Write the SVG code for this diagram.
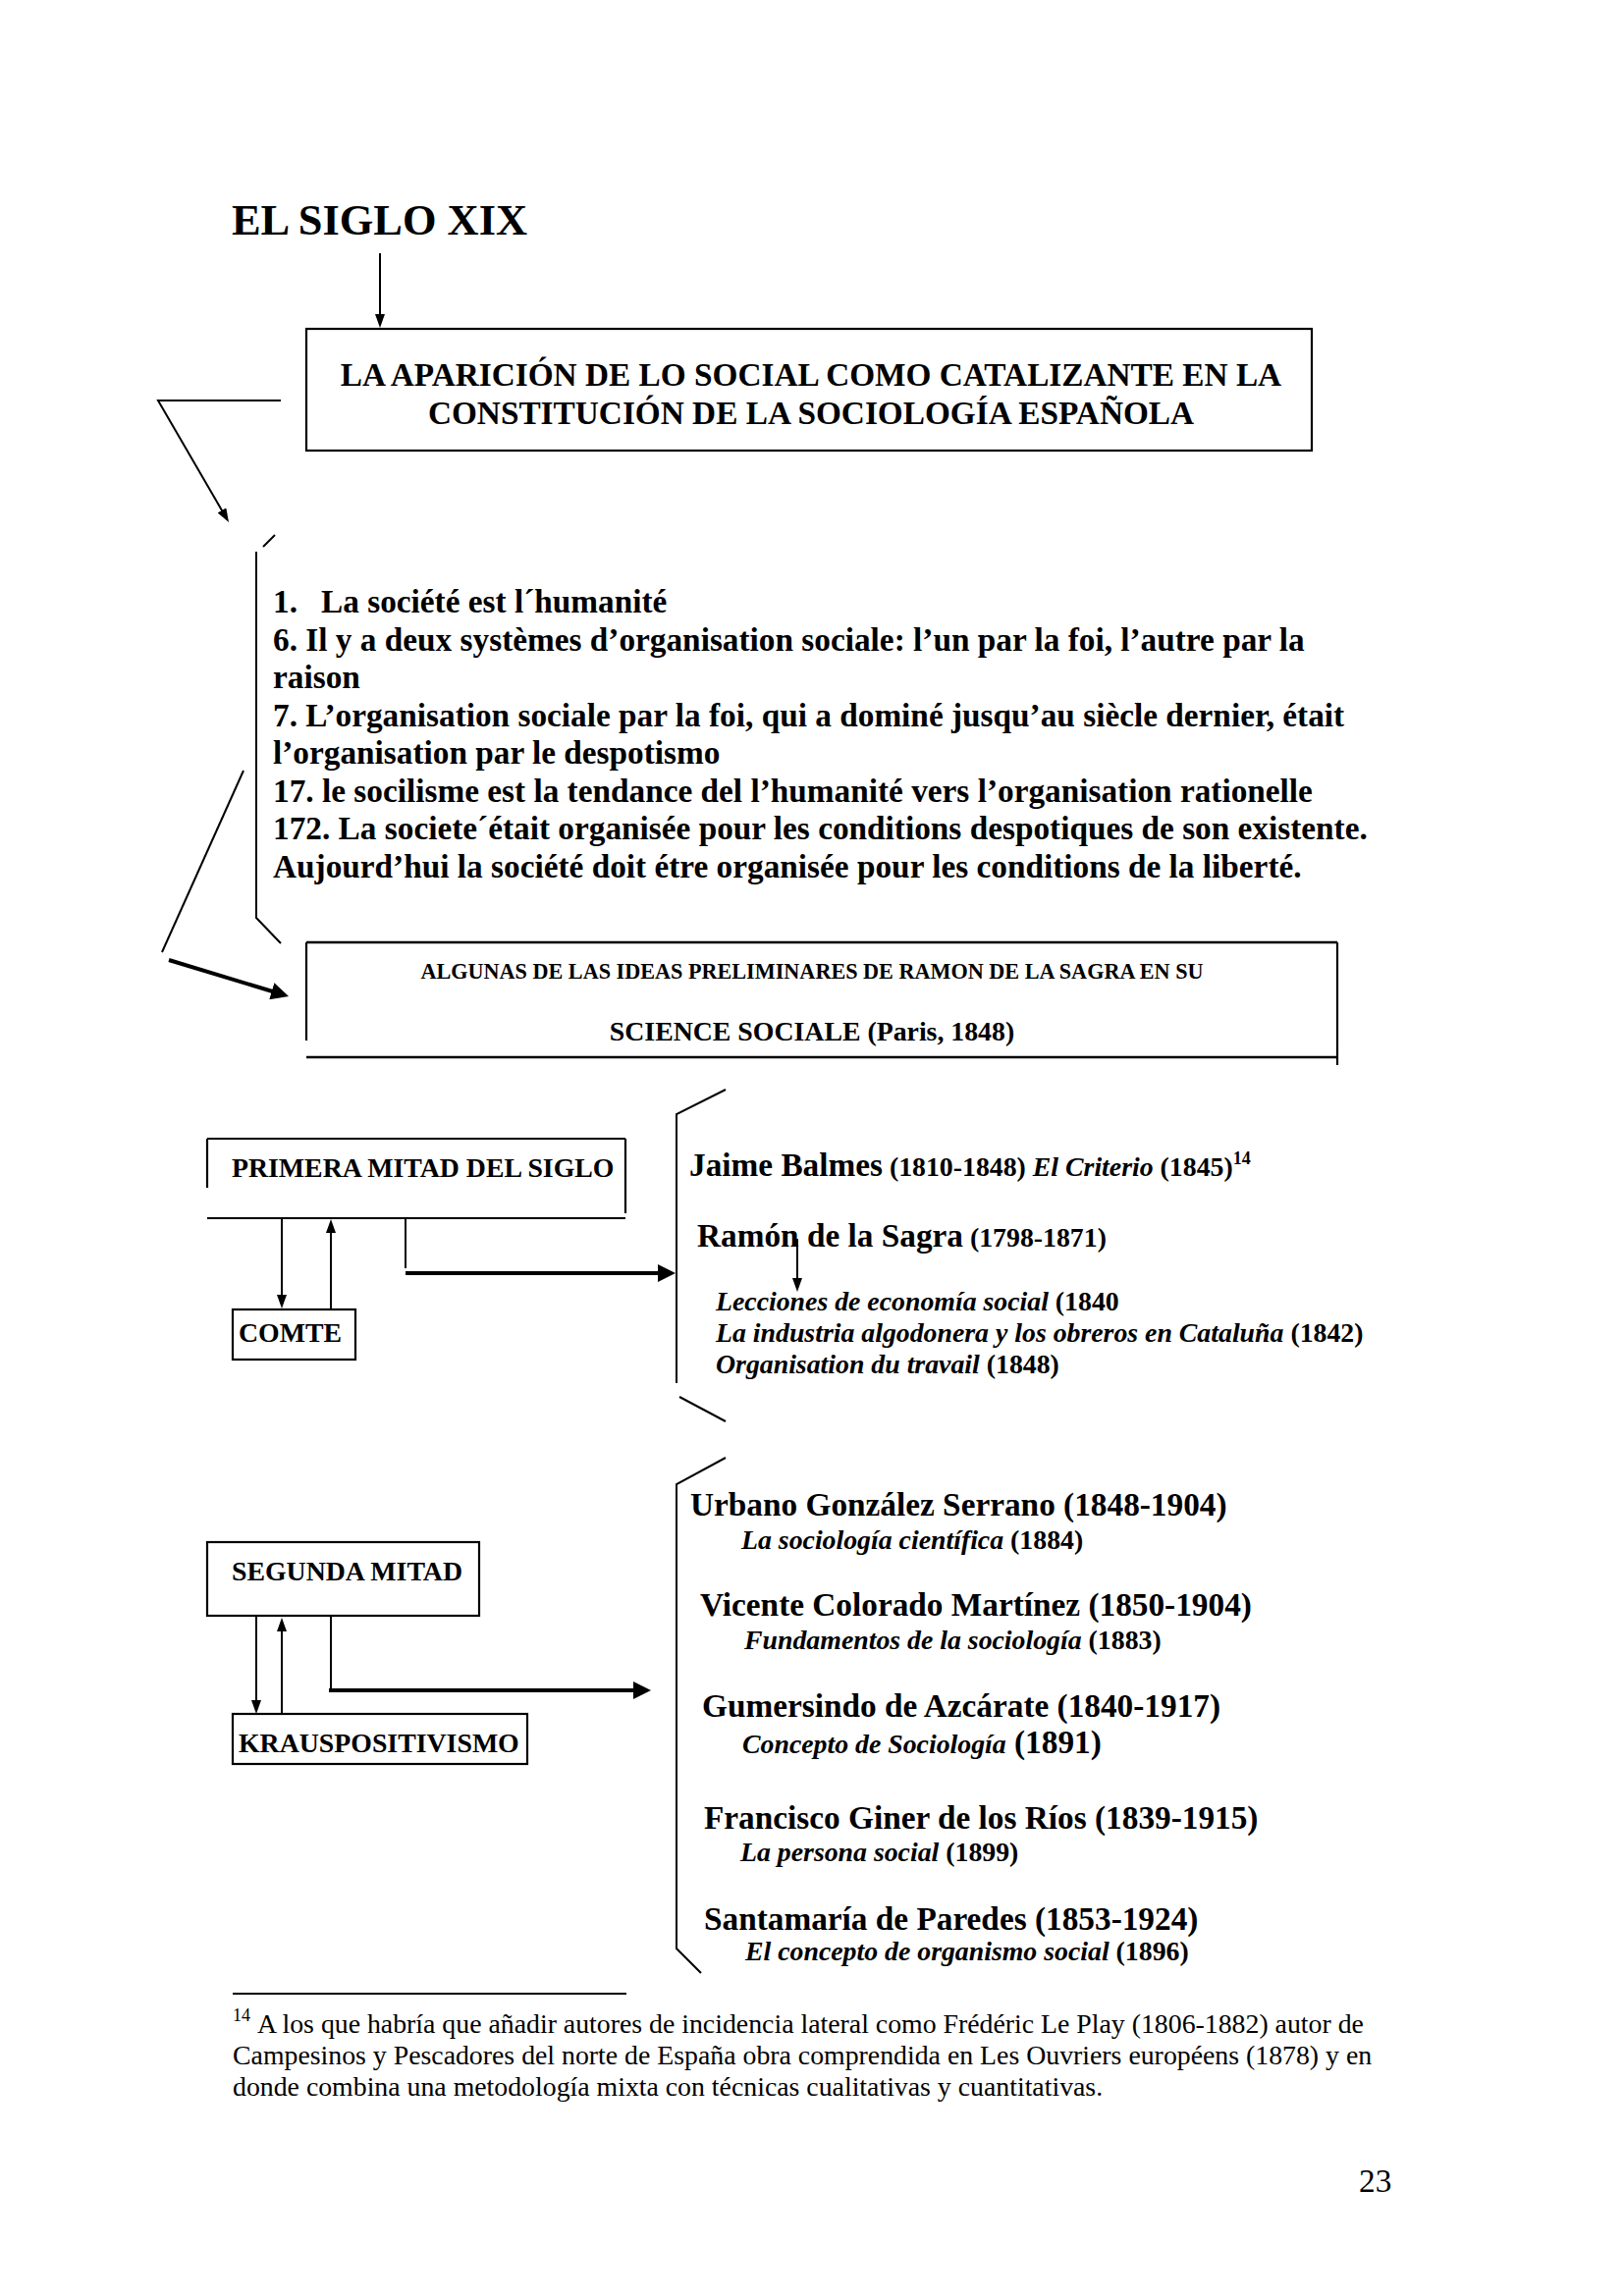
<svg xmlns="http://www.w3.org/2000/svg" width="1654" height="2339" viewBox="0 0 1654 2339">
<style>
text{font-family:"Liberation Serif","Times New Roman",serif;fill:#000}
.b{font-weight:bold}
.i{font-style:italic}
.t12{font-size:33.3px}
.t10{font-size:27.8px}
.t8{font-size:22.2px}
.ln{stroke:#000;stroke-width:2;fill:none}
.bx{stroke:#000;stroke-width:2.2;fill:none}
.thick{stroke:#000;stroke-width:4;fill:none}
</style>
<defs>
<marker id="ah" viewBox="0 0 14 10" refX="4" refY="5" markerWidth="14" markerHeight="10" orient="auto" markerUnits="userSpaceOnUse"><path d="M0,0 L14,5 L0,10 z" fill="#000"/></marker>
<marker id="ahb" viewBox="0 0 18 18" refX="6" refY="9" markerWidth="18" markerHeight="18" orient="auto" markerUnits="userSpaceOnUse"><path d="M0,0 L18,9 L0,18 z" fill="#000"/></marker>
</defs>
<rect width="1654" height="2339" fill="#fff"/>

<g id="title">
<text x="236" y="239" class="b" font-size="44.4">EL SIGLO XIX</text>
</g>

<g id="box-aparicion">
<rect x="312" y="335" width="1024" height="124" class="bx"/>
<text x="826" y="393" class="b t12" text-anchor="middle">LA APARICIÓN DE LO SOCIAL COMO CATALIZANTE EN LA</text>
<text x="826" y="432" class="b t12" text-anchor="middle">CONSTITUCIÓN DE LA SOCIOLOGÍA ESPAÑOLA</text>
</g>

<g id="ideas-list">
<text x="278" y="624" class="b t12">1.</text>
<text x="327" y="624" class="b t12">La société est l´humanité</text>
<text x="278" y="663" class="b t12">6. Il y a deux systèmes d’organisation sociale: l’un par la foi, l’autre par la</text>
<text x="278" y="701" class="b t12">raison</text>
<text x="278" y="740" class="b t12">7. L’organisation sociale par la foi, qui a dominé jusqu’au siècle dernier, était</text>
<text x="278" y="778" class="b t12">l’organisation par le despotismo</text>
<text x="278" y="817" class="b t12">17. le socilisme est la tendance del l’humanité vers l’organisation rationelle</text>
<text x="278" y="855" class="b t12">172. La societe´était organisée pour les conditions despotiques de son existente.</text>
<text x="278" y="894" class="b t12">Aujourd’hui la société doit étre organisée pour les conditions de la liberté.</text>
</g>

<g id="box-algunas">
<line x1="312" y1="960" x2="1362" y2="960" stroke="#000" stroke-width="2.6"/>
<line x1="312" y1="960" x2="312" y2="1060" class="bx"/>
<line x1="1362" y1="960" x2="1362" y2="1085" class="bx"/>
<line x1="312" y1="1077" x2="1362" y2="1077" stroke="#000" stroke-width="2.6"/>
<text x="827" y="997" class="b t8" text-anchor="middle">ALGUNAS DE LAS IDEAS PRELIMINARES DE RAMON DE LA SAGRA EN SU</text>
<text x="827" y="1060" class="b t10" text-anchor="middle">SCIENCE SOCIALE (Paris, 1848)</text>
</g>

<g id="box-primera">
<line x1="211" y1="1160" x2="637" y2="1160" class="bx"/>
<line x1="211" y1="1160" x2="211" y2="1210" class="bx"/>
<line x1="637" y1="1160" x2="637" y2="1236" class="bx"/>
<line x1="211" y1="1241" x2="637" y2="1241" class="bx"/>
<text x="236" y="1199" class="b t10">PRIMERA MITAD DEL SIGLO</text>
</g>

<g id="box-comte">
<rect x="237" y="1334" width="125" height="51" class="bx"/>
<text x="243" y="1367" class="b t10">COMTE</text>
</g>

<g id="first-half-authors">
<text x="702" y="1198"><tspan class="b t12">Jaime Balmes</tspan><tspan class="b t10"> (1810-1848) </tspan><tspan class="b i t10">El Criterio</tspan><tspan class="b t10"> (1845)</tspan><tspan class="b" font-size="18" dy="-12">14</tspan></text>
<text x="710" y="1270"><tspan class="b t12">Ramón de la Sagra</tspan><tspan class="b t10"> (1798-1871)</tspan></text>
<text x="729" y="1335"><tspan class="b i t10">Lecciones de economía social</tspan><tspan class="b t10"> (1840</tspan></text>
<text x="729" y="1367"><tspan class="b i t10">La industria algodonera y los obreros en Cataluña</tspan><tspan class="b t10"> (1842)</tspan></text>
<text x="729" y="1399"><tspan class="b i t10">Organisation du travail</tspan><tspan class="b t10"> (1848)</tspan></text>
</g>

<g id="box-segunda">
<rect x="211" y="1571" width="277" height="75" class="bx"/>
<text x="236" y="1610" class="b t10">SEGUNDA MITAD</text>
</g>

<g id="box-krauspositivismo">
<rect x="237" y="1746" width="300" height="51" class="bx"/>
<text x="243" y="1785" class="b t10">KRAUSPOSITIVISMO</text>
</g>

<g id="second-half-authors">
<text x="703" y="1544" class="b t12">Urbano González Serrano (1848-1904)</text>
<text x="755" y="1578"><tspan class="b i t10">La sociología científica</tspan><tspan class="b t10"> (1884)</tspan></text>
<text x="713" y="1646" class="b t12">Vicente Colorado Martínez (1850-1904)</text>
<text x="758" y="1680"><tspan class="b i t10">Fundamentos de la sociología</tspan><tspan class="b t10"> (1883)</tspan></text>
<text x="715" y="1749" class="b t12">Gumersindo de Azcárate (1840-1917)</text>
<text x="756" y="1786"><tspan class="b i t10">Concepto de Sociología</tspan><tspan class="b t12"> (1891)</tspan></text>
<text x="717" y="1863" class="b t12">Francisco Giner de los Ríos (1839-1915)</text>
<text x="754" y="1896"><tspan class="b i t10">La persona social</tspan><tspan class="b t10"> (1899)</tspan></text>
<text x="717" y="1966" class="b t12">Santamaría de Paredes (1853-1924)</text>
<text x="759" y="1997"><tspan class="b i t10">El concepto de organismo social</tspan><tspan class="b t10"> (1896)</tspan></text>
</g>

<g id="connectors">
<line x1="387" y1="258" x2="387" y2="324" class="ln" marker-end="url(#ah)"/>
<polyline points="286,408 161,408 228,523.4" class="ln" marker-end="url(#ah)"/>
<line x1="268" y1="557" x2="280" y2="545" class="ln"/>
<polyline points="261,562 261,935 286,961" class="ln"/>
<line x1="248" y1="785" x2="165" y2="970" class="ln"/>
<line x1="172" y1="978" x2="282.5" y2="1011.5" class="thick" marker-end="url(#ahb)"/>
<line x1="287" y1="1242" x2="287" y2="1323" class="ln" marker-end="url(#ah)"/>
<line x1="337" y1="1333" x2="337" y2="1252" class="ln" marker-end="url(#ah)"/>
<line x1="413" y1="1242" x2="413" y2="1292" class="ln"/>
<line x1="413" y1="1297" x2="676" y2="1297" class="thick" marker-end="url(#ahb)"/>
<polyline points="739,1110 689,1135 689,1409" class="ln"/>
<line x1="692" y1="1423" x2="739" y2="1448" class="ln"/>
<line x1="812" y1="1262" x2="812" y2="1306" class="ln" marker-end="url(#ah)"/>
<line x1="261" y1="1647" x2="261" y2="1736" class="ln" marker-end="url(#ah)"/>
<line x1="287" y1="1746" x2="287" y2="1658" class="ln" marker-end="url(#ah)"/>
<line x1="337" y1="1647" x2="337" y2="1722" class="ln"/>
<line x1="335" y1="1722" x2="651" y2="1722" class="thick" marker-end="url(#ahb)"/>
<polyline points="739,1485 689,1512 689,1985 714,2010" class="ln"/>
</g>

<g id="footnote">
<line x1="237" y1="2031" x2="638" y2="2031" stroke="#000" stroke-width="2"/>
<text x="237" y="2059" font-size="18">14</text>
<text x="262" y="2071" class="t10">A los que habría que añadir autores de incidencia lateral como Frédéric Le Play (1806-1882) autor de</text>
<text x="237" y="2103" class="t10">Campesinos y Pescadores del norte de España obra comprendida en Les Ouvriers européens (1878) y en</text>
<text x="237" y="2135" class="t10">donde combina una metodología mixta con técnicas cualitativas y cuantitativas.</text>
</g>

<g id="page-number">
<text x="1384" y="2233" font-size="33.3">23</text>
</g>
</svg>
